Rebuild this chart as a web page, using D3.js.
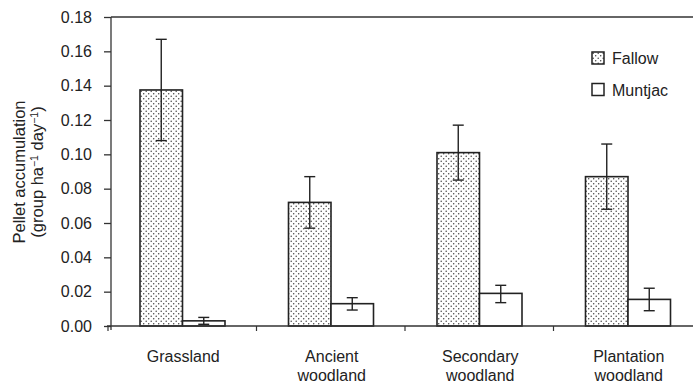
<!DOCTYPE html>
<html>
<head>
<meta charset="utf-8">
<script src="https://cdn.jsdelivr.net/npm/d3@7"></script>
<style>
  body { margin: 0; background: #fff; }
  svg { display: block; font-family: "Liberation Sans", Arial, sans-serif; }
</style>
</head>
<body>
<div id="chart"></div>
<script>
	// data
	var categories = [["Grassland"], ["Ancient", "woodland"], ["Secondary", "woodland"], ["Plantation", "woodland"]];
	var series = ["Fallow", "Muntjac"];
	var fallowMean = [0.1375, 0.072, 0.101, 0.087];
	var fallowLow = [0.108, 0.057, 0.085, 0.068];
	var fallowHigh = [0.167, 0.087, 0.117, 0.106];
	var muntjacMean = [0.003, 0.013, 0.019, 0.0155];
	var muntjacLow = [0.001, 0.0093, 0.0136, 0.0089];
	var muntjacHigh = [0.005, 0.0165, 0.0237, 0.022];
	var yTicks = [0, 0.02, 0.04, 0.06, 0.08, 0.10, 0.12, 0.14, 0.16, 0.18];

	var width = 693, height = 383;
	var margin = { top: 17, left: 111, bottom: 326 };

	var svg = d3.select("#chart").append("svg")
		.attr("width", width)
		.attr("height", height);

	// dotted fill for fallow
	var defs = svg.append("defs");
	var pat = defs.append("pattern")
		.attr("id", "dots")
		.attr("patternUnits", "userSpaceOnUse")
		.attr("width", 5)
		.attr("height", 5);
	pat.append("rect").attr("width", 5).attr("height", 5).attr("fill", "#fff");
	pat.append("circle").attr("cx", 1.2).attr("cy", 1.2).attr("r", 0.75).attr("fill", "#444");
	pat.append("circle").attr("cx", 3.7).attr("cy", 3.7).attr("r", 0.75).attr("fill", "#444");

	var x0 = d3.scaleBand()
		.domain(d3.range(categories.length))
		.range([108, 108 + 4 * 148.5])
		.padding(0);

	var x1 = d3.scaleBand()
		.domain(series)
		.range([32, 117]);

	var y = d3.scaleLinear()
		.domain([0, 0.18])
		.range([margin.bottom, margin.top]);

	var data = [];
	categories.forEach(function (c, i) {
		data.push({ cat: i, key: "Fallow", value: fallowMean[i], lo: fallowLow[i], hi: fallowHigh[i] });
		data.push({ cat: i, key: "Muntjac", value: muntjacMean[i], lo: muntjacLow[i], hi: muntjacHigh[i] });
	});

	//bars
	svg.selectAll("rect.bar")
		.data(data)
		.enter()
		.append("rect")
		.attr("class", "bar")
		.attr("x", function (d) { return x0(d.cat) + x1(d.key); })
		.attr("y", function (d) { return y(d.value); })
		.attr("width", x1.bandwidth())
		.attr("height", function (d) { return y(0) - y(d.value); })
		.attr("fill", function (d) { return d.key === "Fallow" ? "url(#dots)" : "#fff"; })
		.attr("stroke", "#222")
		.attr("stroke-width", 1.6);

	//error bars
	var err = svg.selectAll("g.err")
		.data(data)
		.enter()
		.append("g")
		.attr("class", "err")
		.attr("stroke", "#222")
		.attr("stroke-width", 1.4)
		.attr("transform", function (d) {
			return "translate(" + (x0(d.cat) + x1(d.key) + x1.bandwidth() / 2) + ",0)";
		});
	err.append("line")
		.attr("y1", function (d) { return y(d.lo); })
		.attr("y2", function (d) { return y(d.hi); });
	err.append("line")
		.attr("x1", -5.5).attr("x2", 5.5)
		.attr("y1", function (d) { return y(d.hi); })
		.attr("y2", function (d) { return y(d.hi); });
	err.append("line")
		.attr("x1", -5.5).attr("x2", 5.5)
		.attr("y1", function (d) { return y(d.lo); })
		.attr("y2", function (d) { return y(d.lo); });

	// left axis
	var leftAxis = svg.append("g")
		.attr("transform", "translate(" + margin.left + ",0)")
		.call(d3.axisLeft(y).tickValues(yTicks).tickFormat(d3.format(".2f")).tickSize(7).tickPadding(12));
	leftAxis.select(".domain").attr("d", "M0," + margin.top + "V" + (margin.bottom + 4));
	leftAxis.selectAll("path, line").attr("stroke", "#333").attr("stroke-width", 1.3);
	leftAxis.selectAll("text")
		.attr("font-size", 16)
		.attr("fill", "#222")
		.attr("font-family", "Liberation Sans, Arial, sans-serif");

	// top frame line
	svg.append("line")
		.attr("x1", margin.left).attr("x2", width)
		.attr("y1", margin.top).attr("y2", margin.top)
		.attr("stroke", "#333").attr("stroke-width", 1.3);

	// bottom axis
	var bottom = svg.append("g")
		.attr("transform", "translate(0," + margin.bottom + ")");
	bottom.append("line")
		.attr("x1", 107).attr("x2", width)
		.attr("stroke", "#333").attr("stroke-width", 1.3);
	bottom.selectAll("line.tick")
		.data(d3.range(categories.length))
		.enter()
		.append("line")
		.attr("class", "tick")
		.attr("x1", function (d) { return x0(d); })
		.attr("x2", function (d) { return x0(d); })
		.attr("y1", 0).attr("y2", 5)
		.attr("stroke", "#333").attr("stroke-width", 1.2);

	var labels = svg.selectAll("text.cat")
		.data(categories)
		.enter()
		.append("text")
		.attr("class", "cat")
		.attr("text-anchor", "middle")
		.attr("font-size", 16)
		.attr("fill", "#222")
		.attr("transform", function (d, i) {
			return "translate(" + (x0(i) + x0.bandwidth() / 2 + 1) + ",362)";
		});
	labels.selectAll("tspan")
		.data(function (d) { return d; })
		.enter()
		.append("tspan")
		.attr("x", 0)
		.attr("dy", function (d, i) { return i === 0 ? 0 : 19; })
		.text(function (d) { return d; });

	// y axis title
	var title = svg.append("text")
		.attr("transform", "translate(25,172) rotate(-90)")
		.attr("text-anchor", "middle")
		.attr("font-size", 16.5)
		.attr("fill", "#222");
	title.append("tspan").attr("x", 0).attr("dy", 0).text("Pellet accumulation");
	var t2 = title.append("tspan").attr("x", 0).attr("dy", 18).text("(group ha");
	t2.append("tspan").attr("dy", -5).attr("font-size", 10.5).text("−1");
	t2.append("tspan").attr("dy", 5).text(" day");
	t2.append("tspan").attr("dy", -5).attr("font-size", 10.5).text("−1");
	t2.append("tspan").attr("dy", 5).text(")");

	// legend
	var legend = svg.selectAll("g.legend")
		.data(series)
		.enter()
		.append("g")
		.attr("class", "legend")
		.attr("transform", function (d, i) { return "translate(592," + (52 + i * 31.5) + ")"; });
	legend.append("rect")
		.attr("width", 12).attr("height", 12)
		.attr("fill", function (d) { return d === "Fallow" ? "url(#dots)" : "#fff"; })
		.attr("stroke", "#222").attr("stroke-width", 1.5);
	legend.append("text")
		.attr("x", 20).attr("y", 12)
		.attr("font-size", 16)
		.attr("fill", "#222")
		.text(function (d) { return d; });
</script>
</body>
</html>
